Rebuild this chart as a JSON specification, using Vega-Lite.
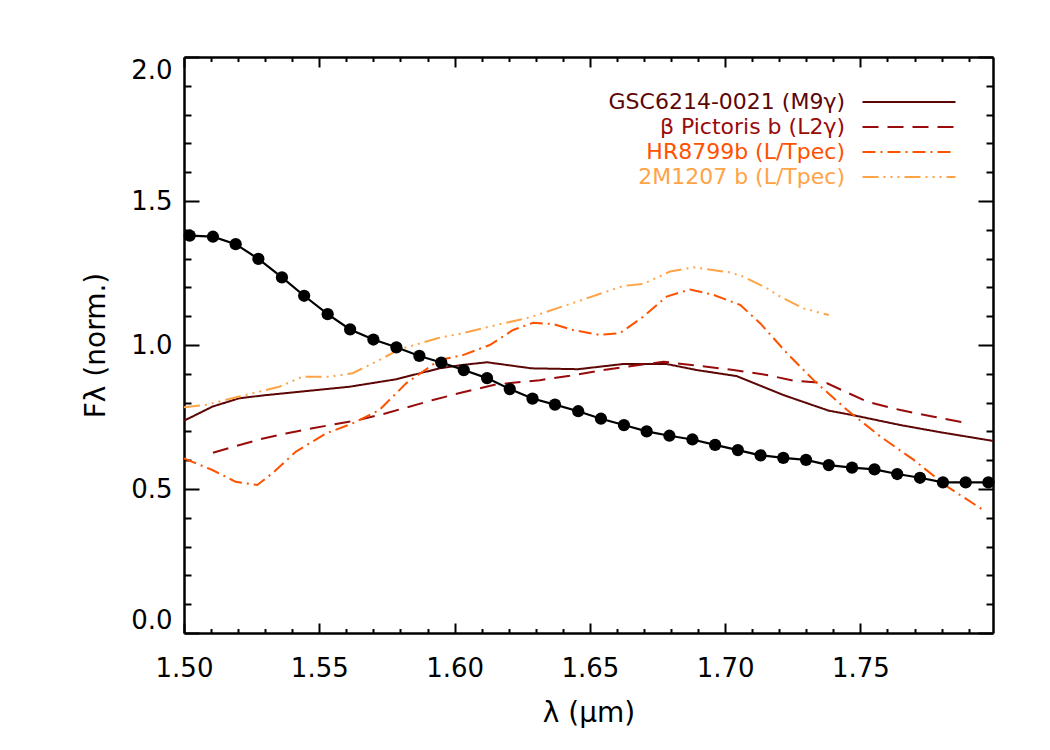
{
  "$schema": "https://vega.github.io/schema/vega-lite/v6.json",
  "width": 809,
  "height": 576,
  "autosize": {"type": "none"},
  "padding": {"left": 184, "top": 57, "right": 57, "bottom": 117},
  "background": "white",
  "config": {
    "view": {"stroke": null},
    "font": "DejaVu Sans",
    "axis": {
      "domainColor": "black", "domainWidth": 2.5, "tickColor": "black", "tickWidth": 2,
      "labelColor": "black", "labelFont": "DejaVu Sans", "labelFontSize": 26,
      "titleFont": "DejaVu Sans", "titleFontSize": 28, "titleFontWeight": "normal", "titleColor": "black",
      "grid": false, "labelOverlap": false, "labelBound": false
    }
  },
  "datasets": {
    "spectra": [
      {"series": "GSC6214-0021 (M9γ)", "x": 1.5000, "y": 0.737},
      {"series": "GSC6214-0021 (M9γ)", "x": 1.5105, "y": 0.786},
      {"series": "GSC6214-0021 (M9γ)", "x": 1.5204, "y": 0.815},
      {"series": "GSC6214-0021 (M9γ)", "x": 1.5303, "y": 0.826},
      {"series": "GSC6214-0021 (M9γ)", "x": 1.5611, "y": 0.855},
      {"series": "GSC6214-0021 (M9γ)", "x": 1.5784, "y": 0.881},
      {"series": "GSC6214-0021 (M9γ)", "x": 1.5944, "y": 0.919},
      {"series": "GSC6214-0021 (M9γ)", "x": 1.6031, "y": 0.931},
      {"series": "GSC6214-0021 (M9γ)", "x": 1.6120, "y": 0.940},
      {"series": "GSC6214-0021 (M9γ)", "x": 1.6284, "y": 0.919},
      {"series": "GSC6214-0021 (M9γ)", "x": 1.6457, "y": 0.916},
      {"series": "GSC6214-0021 (M9γ)", "x": 1.6623, "y": 0.934},
      {"series": "GSC6214-0021 (M9γ)", "x": 1.6784, "y": 0.934},
      {"series": "GSC6214-0021 (M9γ)", "x": 1.6895, "y": 0.913},
      {"series": "GSC6214-0021 (M9γ)", "x": 1.7043, "y": 0.892},
      {"series": "GSC6214-0021 (M9γ)", "x": 1.7216, "y": 0.826},
      {"series": "GSC6214-0021 (M9γ)", "x": 1.7383, "y": 0.772},
      {"series": "GSC6214-0021 (M9γ)", "x": 1.7475, "y": 0.756},
      {"series": "GSC6214-0021 (M9γ)", "x": 1.7648, "y": 0.722},
      {"series": "GSC6214-0021 (M9γ)", "x": 1.7796, "y": 0.697},
      {"series": "GSC6214-0021 (M9γ)", "x": 1.7990, "y": 0.667},
      {"series": "β Pictoris b (L2γ)", "x": 1.5107, "y": 0.626},
      {"series": "β Pictoris b (L2γ)", "x": 1.5278, "y": 0.672},
      {"series": "β Pictoris b (L2γ)", "x": 1.5377, "y": 0.693},
      {"series": "β Pictoris b (L2γ)", "x": 1.5475, "y": 0.711},
      {"series": "β Pictoris b (L2γ)", "x": 1.5648, "y": 0.740},
      {"series": "β Pictoris b (L2γ)", "x": 1.5747, "y": 0.763},
      {"series": "β Pictoris b (L2γ)", "x": 1.5920, "y": 0.809},
      {"series": "β Pictoris b (L2γ)", "x": 1.6031, "y": 0.836},
      {"series": "β Pictoris b (L2γ)", "x": 1.6154, "y": 0.863},
      {"series": "β Pictoris b (L2γ)", "x": 1.6315, "y": 0.878},
      {"series": "β Pictoris b (L2γ)", "x": 1.6426, "y": 0.893},
      {"series": "β Pictoris b (L2γ)", "x": 1.6549, "y": 0.913},
      {"series": "β Pictoris b (L2γ)", "x": 1.6772, "y": 0.942},
      {"series": "β Pictoris b (L2γ)", "x": 1.6907, "y": 0.927},
      {"series": "β Pictoris b (L2γ)", "x": 1.7031, "y": 0.913},
      {"series": "β Pictoris b (L2γ)", "x": 1.7154, "y": 0.896},
      {"series": "β Pictoris b (L2γ)", "x": 1.7253, "y": 0.876},
      {"series": "β Pictoris b (L2γ)", "x": 1.7377, "y": 0.867},
      {"series": "β Pictoris b (L2γ)", "x": 1.7525, "y": 0.803},
      {"series": "β Pictoris b (L2γ)", "x": 1.7648, "y": 0.774},
      {"series": "β Pictoris b (L2γ)", "x": 1.7771, "y": 0.751},
      {"series": "β Pictoris b (L2γ)", "x": 1.7883, "y": 0.731},
      {"series": "HR8799b (L/Tpec)", "x": 1.5000, "y": 0.606},
      {"series": "HR8799b (L/Tpec)", "x": 1.5105, "y": 0.566},
      {"series": "HR8799b (L/Tpec)", "x": 1.5191, "y": 0.525},
      {"series": "HR8799b (L/Tpec)", "x": 1.5271, "y": 0.514},
      {"series": "HR8799b (L/Tpec)", "x": 1.5327, "y": 0.555},
      {"series": "HR8799b (L/Tpec)", "x": 1.5414, "y": 0.630},
      {"series": "HR8799b (L/Tpec)", "x": 1.5525, "y": 0.693},
      {"series": "HR8799b (L/Tpec)", "x": 1.5623, "y": 0.728},
      {"series": "HR8799b (L/Tpec)", "x": 1.5722, "y": 0.774},
      {"series": "HR8799b (L/Tpec)", "x": 1.5821, "y": 0.867},
      {"series": "HR8799b (L/Tpec)", "x": 1.5944, "y": 0.948},
      {"series": "HR8799b (L/Tpec)", "x": 1.6031, "y": 0.965},
      {"series": "HR8799b (L/Tpec)", "x": 1.6130, "y": 1.000},
      {"series": "HR8799b (L/Tpec)", "x": 1.6216, "y": 1.052},
      {"series": "HR8799b (L/Tpec)", "x": 1.6290, "y": 1.077},
      {"series": "HR8799b (L/Tpec)", "x": 1.6364, "y": 1.073},
      {"series": "HR8799b (L/Tpec)", "x": 1.6438, "y": 1.052},
      {"series": "HR8799b (L/Tpec)", "x": 1.6537, "y": 1.035},
      {"series": "HR8799b (L/Tpec)", "x": 1.6611, "y": 1.041},
      {"series": "HR8799b (L/Tpec)", "x": 1.6697, "y": 1.098},
      {"series": "HR8799b (L/Tpec)", "x": 1.6784, "y": 1.168},
      {"series": "HR8799b (L/Tpec)", "x": 1.6870, "y": 1.193},
      {"series": "HR8799b (L/Tpec)", "x": 1.6957, "y": 1.174},
      {"series": "HR8799b (L/Tpec)", "x": 1.7056, "y": 1.139},
      {"series": "HR8799b (L/Tpec)", "x": 1.7130, "y": 1.075},
      {"series": "HR8799b (L/Tpec)", "x": 1.7229, "y": 0.971},
      {"series": "HR8799b (L/Tpec)", "x": 1.7327, "y": 0.878},
      {"series": "HR8799b (L/Tpec)", "x": 1.7451, "y": 0.774},
      {"series": "HR8799b (L/Tpec)", "x": 1.7574, "y": 0.682},
      {"series": "HR8799b (L/Tpec)", "x": 1.7697, "y": 0.601},
      {"series": "HR8799b (L/Tpec)", "x": 1.7821, "y": 0.508},
      {"series": "HR8799b (L/Tpec)", "x": 1.7954, "y": 0.427},
      {"series": "2M1207 b (L/Tpec)", "x": 1.5000, "y": 0.784},
      {"series": "2M1207 b (L/Tpec)", "x": 1.5080, "y": 0.792},
      {"series": "2M1207 b (L/Tpec)", "x": 1.5204, "y": 0.821},
      {"series": "2M1207 b (L/Tpec)", "x": 1.5352, "y": 0.855},
      {"series": "2M1207 b (L/Tpec)", "x": 1.5438, "y": 0.890},
      {"series": "2M1207 b (L/Tpec)", "x": 1.5537, "y": 0.890},
      {"series": "2M1207 b (L/Tpec)", "x": 1.5623, "y": 0.902},
      {"series": "2M1207 b (L/Tpec)", "x": 1.5710, "y": 0.942},
      {"series": "2M1207 b (L/Tpec)", "x": 1.5796, "y": 0.985},
      {"series": "2M1207 b (L/Tpec)", "x": 1.5944, "y": 1.025},
      {"series": "2M1207 b (L/Tpec)", "x": 1.6031, "y": 1.041},
      {"series": "2M1207 b (L/Tpec)", "x": 1.6130, "y": 1.064},
      {"series": "2M1207 b (L/Tpec)", "x": 1.6278, "y": 1.096},
      {"series": "2M1207 b (L/Tpec)", "x": 1.6451, "y": 1.150},
      {"series": "2M1207 b (L/Tpec)", "x": 1.6623, "y": 1.205},
      {"series": "2M1207 b (L/Tpec)", "x": 1.6697, "y": 1.212},
      {"series": "2M1207 b (L/Tpec)", "x": 1.6796, "y": 1.255},
      {"series": "2M1207 b (L/Tpec)", "x": 1.6883, "y": 1.270},
      {"series": "2M1207 b (L/Tpec)", "x": 1.7019, "y": 1.252},
      {"series": "2M1207 b (L/Tpec)", "x": 1.7068, "y": 1.237},
      {"series": "2M1207 b (L/Tpec)", "x": 1.7154, "y": 1.197},
      {"series": "2M1207 b (L/Tpec)", "x": 1.7204, "y": 1.168},
      {"series": "2M1207 b (L/Tpec)", "x": 1.7290, "y": 1.127},
      {"series": "2M1207 b (L/Tpec)", "x": 1.7383, "y": 1.104}
    ],
    "template": [
      {"x": 1.5021, "y": 1.380}, {"x": 1.5107, "y": 1.376}, {"x": 1.5191, "y": 1.350},
      {"x": 1.5275, "y": 1.299}, {"x": 1.5362, "y": 1.235}, {"x": 1.5444, "y": 1.171},
      {"x": 1.5531, "y": 1.107}, {"x": 1.5614, "y": 1.054}, {"x": 1.5700, "y": 1.019},
      {"x": 1.5785, "y": 0.992}, {"x": 1.5870, "y": 0.962}, {"x": 1.5951, "y": 0.939},
      {"x": 1.6034, "y": 0.913}, {"x": 1.6120, "y": 0.885}, {"x": 1.6204, "y": 0.847},
      {"x": 1.6288, "y": 0.814}, {"x": 1.6371, "y": 0.793}, {"x": 1.6457, "y": 0.770},
      {"x": 1.6541, "y": 0.744}, {"x": 1.6626, "y": 0.722}, {"x": 1.6710, "y": 0.700},
      {"x": 1.6794, "y": 0.685}, {"x": 1.6879, "y": 0.672}, {"x": 1.6963, "y": 0.653},
      {"x": 1.7047, "y": 0.635}, {"x": 1.7131, "y": 0.617}, {"x": 1.7215, "y": 0.608},
      {"x": 1.7299, "y": 0.601}, {"x": 1.7383, "y": 0.583}, {"x": 1.7469, "y": 0.574},
      {"x": 1.7552, "y": 0.568}, {"x": 1.7636, "y": 0.552}, {"x": 1.7720, "y": 0.539},
      {"x": 1.7805, "y": 0.523}, {"x": 1.7889, "y": 0.523}, {"x": 1.7973, "y": 0.523}
    ]
  },
  "layer": [
    {
      "data": {"name": "spectra"},
      "mark": {"type": "line", "strokeWidth": 2, "clip": true},
      "encoding": {
        "x": {
          "field": "x", "type": "quantitative",
          "scale": {"domain": [1.5, 1.799], "nice": false, "zero": false, "padding": 0},
          "axis": {
            "orient": "bottom",
            "values": [1.5, 1.51, 1.52, 1.53, 1.54, 1.55, 1.56, 1.57, 1.58, 1.59, 1.6, 1.61, 1.62, 1.63, 1.64, 1.65, 1.66, 1.67, 1.68, 1.69, 1.7, 1.71, 1.72, 1.73, 1.74, 1.75, 1.76, 1.77, 1.78, 1.79],
            "tickSize": {"condition": {"test": "abs(datum.value*20 - round(datum.value*20)) < 0.001", "value": -10}, "value": -4.5},
            "labelExpr": "abs(datum.value*20 - round(datum.value*20)) < 0.001 ? format(datum.value, '.2f') : ''",
            "labelPadding": 32,
            "labelFlush": false,
            "title": "λ (μm)",
            "titlePadding": 13
          }
        },
        "y": {
          "field": "y", "type": "quantitative",
          "scale": {"domain": [0, 2], "nice": false, "zero": false, "padding": 0},
          "axis": {
            "orient": "left",
            "values": [0, 0.1, 0.2, 0.3, 0.4, 0.5, 0.6, 0.7, 0.8, 0.9, 1.0, 1.1, 1.2, 1.3, 1.4, 1.5, 1.6, 1.7, 1.8, 1.9, 2.0],
            "tickSize": {"condition": {"test": "abs(datum.value*2 - round(datum.value*2)) < 0.001", "value": -15}, "value": -7},
            "labelExpr": "abs(datum.value*2 - round(datum.value*2)) < 0.001 ? format(datum.value, '.1f') : ''",
            "labelPadding": 27,
            "labelFlush": true,
            "labelFlushOffset": 0,
            "title": "Fλ (norm.)",
            "titlePadding": 20
          }
        },
        "color": {
          "field": "series", "type": "nominal",
          "scale": {
            "domain": ["GSC6214-0021 (M9γ)", "β Pictoris b (L2γ)", "HR8799b (L/Tpec)", "2M1207 b (L/Tpec)"],
            "range": ["#5c0606", "#990a0a", "#ff5200", "#ffa347"]
          },
          "legend": {
            "title": null, "orient": "none", "legendX": 714, "legendY": 34,
            "symbolType": "M-4.65,0H4.65", "symbolSize": 400, "symbolStrokeWidth": 2,
            "labelAlign": "right", "labelOffset": -75, "labelFontSize": 22, "labelFont": "DejaVu Sans",
            "labelLimit": 500, "rowPadding": 3, "padding": 0,
            "encode": {"labels": {"update": {"fill": {"scale": "color", "field": "value"}}}}
          }
        },
        "strokeDash": {
          "field": "series", "type": "nominal",
          "scale": {
            "domain": ["GSC6214-0021 (M9γ)", "β Pictoris b (L2γ)", "HR8799b (L/Tpec)", "2M1207 b (L/Tpec)"],
            "range": [[1, 0], [16, 9], [13, 5, 2, 5], [16, 5, 2, 5, 2, 5, 2, 5]]
          },
          "legend": {
            "title": null, "orient": "none", "legendX": 714, "legendY": 34,
            "symbolType": "M-4.65,0H4.65", "symbolSize": 400, "symbolStrokeWidth": 2,
            "labelAlign": "right", "labelOffset": -75, "labelFontSize": 22, "labelFont": "DejaVu Sans",
            "labelLimit": 500, "rowPadding": 3, "padding": 0,
            "encode": {"labels": {"update": {"fill": {"scale": "color", "field": "value"}}}}
          }
        }
      }
    },
    {
      "data": {"name": "template"},
      "mark": {"type": "line", "color": "black", "strokeWidth": 2.2},
      "encoding": {
        "x": {
          "field": "x", "type": "quantitative",
          "scale": {"domain": [1.5, 1.799], "nice": false, "zero": false, "padding": 0},
          "axis": {
            "orient": "top",
            "values": [1.5, 1.51, 1.52, 1.53, 1.54, 1.55, 1.56, 1.57, 1.58, 1.59, 1.6, 1.61, 1.62, 1.63, 1.64, 1.65, 1.66, 1.67, 1.68, 1.69, 1.7, 1.71, 1.72, 1.73, 1.74, 1.75, 1.76, 1.77, 1.78, 1.79],
            "tickSize": {"condition": {"test": "abs(datum.value*20 - round(datum.value*20)) < 0.001", "value": -10}, "value": -4.5},
            "labels": false,
            "title": null
          }
        },
        "y": {
          "field": "y", "type": "quantitative",
          "scale": {"domain": [0, 2], "nice": false, "zero": false, "padding": 0},
          "axis": {
            "orient": "right",
            "values": [0, 0.1, 0.2, 0.3, 0.4, 0.5, 0.6, 0.7, 0.8, 0.9, 1.0, 1.1, 1.2, 1.3, 1.4, 1.5, 1.6, 1.7, 1.8, 1.9, 2.0],
            "tickSize": {"condition": {"test": "abs(datum.value*2 - round(datum.value*2)) < 0.001", "value": -15}, "value": -7},
            "labels": false,
            "title": null
          }
        }
      }
    },
    {
      "data": {"name": "template"},
      "mark": {"type": "circle", "color": "black", "size": 150, "opacity": 1},
      "encoding": {
        "x": {"field": "x", "type": "quantitative", "scale": {"domain": [1.5, 1.799], "nice": false, "zero": false, "padding": 0}, "axis": null},
        "y": {"field": "y", "type": "quantitative", "scale": {"domain": [0, 2], "nice": false, "zero": false, "padding": 0}, "axis": null}
      }
    }
  ],
  "resolve": {"axis": {"x": "independent", "y": "independent"}}
}
